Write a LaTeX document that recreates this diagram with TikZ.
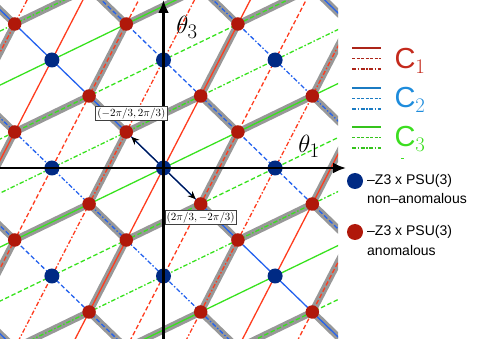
\documentclass[tikz,border=0pt]{standalone}
\usepackage{fontspec}
\newfontfamily\legendfont{Liberation Sans}
\usetikzlibrary{arrows.meta,positioning,calc}
\definecolor{LineRed}{HTML}{FF3C1E}
\definecolor{LineBlue}{HTML}{2462EE}
\definecolor{LineGreen}{HTML}{38E21E}
\definecolor{DotBlue}{HTML}{002A84}
\definecolor{DotRed}{HTML}{B0180A}
\definecolor{Band}{HTML}{989898}
\definecolor{KeyRed}{HTML}{C42A1C}
\definecolor{KeyBlue}{HTML}{1E8CDC}
\definecolor{KeyGreen}{HTML}{3CDE20}
\tikzset{
 fam/.style={line width=1.3pt},
 solidline/.style={fam,solid},
 dashline/.style={fam,dash pattern=on 4.5pt off 2.5pt},
 dotline/.style={fam,dash pattern=on 4.5pt off 2pt on 1.5pt off 2pt},
 famsty/.code={\ifcase#1\tikzset{solidline}\or\tikzset{dashline}\or\tikzset{dotline}\fi},
 band/.style={draw=Band,line width=7pt},
 bluedot/.style={circle,fill=DotBlue,inner sep=0pt,minimum size=15pt},
 reddot/.style={circle,fill=DotRed,inner sep=0pt,minimum size=13.5pt},
 axis/.style={line width=2.6pt,-{Latex[length=13pt,width=11pt]}},
 vec/.style={line width=1.2pt,draw=DotBlue!60!black,-{Stealth[length=8pt,width=7pt,color=black]}},
 tag/.style={draw=black!75,fill=white,inner sep=1.5pt,line width=0.6pt,font=\fontsize{11}{13}\selectfont},
 keyline/.style={line width=1.6pt},
 keytext/.style={font=\legendfont\fontsize{14}{16}\selectfont,anchor=west,inner sep=0pt}
}
\begin{document}
\begin{tikzpicture}[x=1pt,y=-1pt]
\useasboundingbox (0,0) rectangle (485,339);
\begin{scope}
\clip (0,0) rectangle (338,339);
\begin{scope}[shift={(163.5,168)},x=37.2pt,y=36pt]
% lattice points, names offset by 10
\foreach \i in {-8,...,8}{
 \foreach \j in {-8,...,8}{
  \pgfmathtruncatemacro\s{mod(\i+\j+30,3)}
  \pgfmathtruncatemacro\kx{\i+10}
  \pgfmathtruncatemacro\ky{\j+10}
  \ifnum\s=0 \coordinate (p\kx-\ky) at (\i,\j); \fi
 }
}
% grey honeycomb through the anomalous points
\foreach \i in {-6,...,6}{
 \foreach \j in {-6,...,6}{
  \pgfmathtruncatemacro\u{mod(\i+30,3)}
  \pgfmathtruncatemacro\v{mod(\j+30,3)}
  \pgfmathtruncatemacro\kx{\i+10}
  \pgfmathtruncatemacro\ky{\j+10}
  \pgfmathtruncatemacro\xp{\i+11}
  \pgfmathtruncatemacro\xm{\i+8}
  \pgfmathtruncatemacro\ym{\j+9}
  \pgfmathtruncatemacro\yp{\j+12}
  \ifnum\u=1 \ifnum\v=2
   \draw[band] (p\kx-\ky) -- (p\xp-\ym) (p\kx-\ky) -- (p\xp-\yp) (p\kx-\ky) -- (p\xm-\ym);
  \fi\fi
 }
}
% the three families of lines
\foreach \m in {-5,...,5}{
 \pgfmathtruncatemacro\k{mod(\m+30,3)}
 \draw[famsty=\k,LineRed] ({1.5*\m-5},-10) -- ({1.5*\m+5},10);
 \draw[famsty=\k,LineBlue] ({1.5*\m-8},{1.5*\m+8}) -- ({1.5*\m+8},{1.5*\m-8});
 \draw[famsty=\k,LineGreen] ({3*\m-12},-6) -- ({3*\m+12},6);
}
% vacua
\foreach \i in {-5,...,5}{
 \foreach \j in {-5,...,5}{
  \pgfmathtruncatemacro\s{mod(\i+\j+30,3)}
  \pgfmathtruncatemacro\u{mod(\i+30,3)}
  \pgfmathtruncatemacro\kx{\i+10}
  \pgfmathtruncatemacro\ky{\j+10}
  \ifnum\s=0
   \ifnum\u=0 \node[bluedot] (d\kx-\ky) at (p\kx-\ky) {};
   \else \node[reddot] (d\kx-\ky) at (p\kx-\ky) {};
   \fi
  \fi
 }
}
\end{scope}
\end{scope}
% axes
\coordinate (xs) at (0,168);
\coordinate (xe) at (346,168);
\coordinate (ys) at (163.5,339);
\coordinate (ye) at (163.5,0);
\draw[axis] (xs) -- (xe);
\draw[axis] (ys) -- (ye);
\node[font=\fontsize{30}{30}\selectfont] (thOne) at (309,146) {$\theta_1$};
\node[font=\fontsize{30}{30}\selectfont] (thThree) at (187,27) {$\theta_3$};
\draw[vec] (d10-10) -- (d9-11);
\draw[vec] (d10-10) -- (d11-9);
\node[tag,above=4pt of d9-11,xshift=5pt] (tagNW) {$(-2\pi/3,2\pi/3)$};
\node[tag,below=-0.5pt of d11-9] (tagSE) {$(2\pi/3,-2\pi/3)$};
% legend
\foreach \y/\c in {48/KeyRed,88/KeyBlue,127/KeyGreen}{
 \draw[keyline,\c!88!black] (352,\y) -- (381,\y);
 \draw[keyline,\c!88!black,dash pattern=on 3pt off 1.5pt] (352,\y+10.5) -- (381,\y+10.5);
 \draw[keyline,\c!88!black,dash pattern=on 4pt off 1.5pt on 1.5pt off 1.5pt] (352,\y+21) -- (381,\y+21);
}
\node[font=\fontsize{29}{29}\selectfont,text=KeyRed,anchor=west] (keyOne) at (391,61) {\legendfont C$_1$};
\node[font=\fontsize{29}{29}\selectfont,text=KeyBlue,anchor=west] (keyTwo) at (391,100) {\legendfont C$_2$};
\node[font=\fontsize{29}{29}\selectfont,text=KeyGreen,anchor=west] (keyThree) at (391,139) {\legendfont C$_3$};
\draw[KeyGreen,line width=0.8pt] (401,158) -- (404,158);
\node[bluedot,minimum size=16pt] (keyBlue) at (355,181) {};
\node[keytext] (keyBlueA) at (367,181) {–Z3 x PSU(3)};
\node[keytext] (keyBlueB) at (367,198) {non–anomalous};
\node[reddot,minimum size=16pt] (keyRed) at (355,232) {};
\node[keytext] (keyRedA) at (367,232) {–Z3 x PSU(3)};
\node[keytext] (keyRedB) at (367,250) {anomalous};
\end{tikzpicture}
\end{document}
